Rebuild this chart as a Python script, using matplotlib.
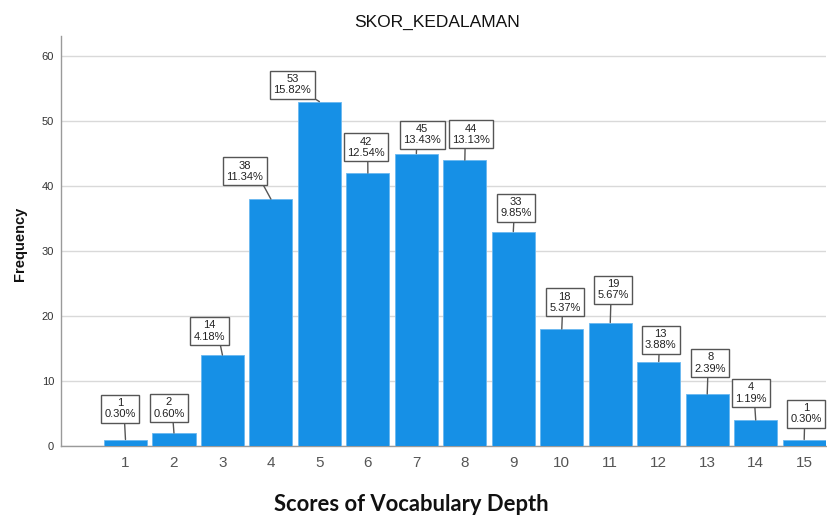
import matplotlib
matplotlib.use("Agg")
import matplotlib.pyplot as plt
import numpy as np

# ---- data ----
scores = [1, 2, 3, 4, 5, 6, 7, 8, 9, 10, 11, 12, 13, 14, 15]
frequency = [1, 2, 14, 38, 53, 42, 45, 44, 33, 18, 19, 13, 8, 4, 1]
title = "SKOR_KEDALAMAN"
x_label = "Scores of Vocabulary Depth"
y_label = "Frequency"
y_ticks = [0, 10, 20, 30, 40, 50, 60]

# ---- label layout (pixel offsets of callout boxes) ----
label_dx_px = [-5, -5, -13, -26, -27, -2, 6, 6, 3, 3, 3, 2, 3, -5, 2]
label_gap_px = [17, 11, 10, 14, 3, 12, 5, 12, 10, 13, 19, 8, 17, 13, 12]

plt.rcParams['font.family'] = ['Liberation Sans', 'DejaVu Sans']

W, H, DPI = 828, 517, 100
fig = plt.figure(figsize=(W / DPI, H / DPI), dpi=DPI)
ax = fig.add_axes([61 / W, (H - 446) / H, (826 - 61) / W, (446 - 36) / H])

total = sum(frequency)
bar_color = "#1690e6"
ax.bar(scores, frequency, width=0.89, color=bar_color, edgecolor="#6ab8f0",
       linewidth=0.6, zorder=3)

ax.set_xlim(-0.33, 15.45)
ax.set_ylim(0, 63.1)
ax.set_yticks(y_ticks)
ax.set_xticks(scores)
ax.set_xticklabels([str(s) for s in scores])
ax.tick_params(axis='x', length=0, pad=7, labelsize=11, labelcolor="#555555")
ax.tick_params(axis='y', length=0, pad=5, labelsize=8, labelcolor="#333333")
ax.grid(axis='y', color="#d9d9d9", linewidth=1.0, zorder=0)
ax.set_axisbelow(True)
for s in ['top', 'right']:
    ax.spines[s].set_visible(False)
for s in ['left', 'bottom']:
    ax.spines[s].set_color("#9a9a9a")
    ax.spines[s].set_linewidth(1.0)

px2pt = 72.0 / DPI
pad_pt = 0.3 * 8
box_w_px = 40.0
for x, v, dx, gap in zip(scores, frequency, label_dx_px, label_gap_px):
    pct = 100.0 * v / total
    rel_x = min(max(0.5 - dx / box_w_px, 0.05), 0.95)
    ax.annotate(f"{v}\n{pct:.2f}%", xy=(x, v),
                xytext=(dx * px2pt, gap * px2pt + pad_pt), textcoords='offset points',
                ha='center', va='bottom', multialignment='center',
                fontsize=8, color="#222222", linespacing=1.15, zorder=5,
                bbox=dict(boxstyle='square,pad=0.3', fc='white', ec='#555555', lw=1.0),
                arrowprops=dict(arrowstyle='-', color='#555555', lw=1.0,
                                shrinkA=0, shrinkB=0, relpos=(rel_x, 0.0)))

fig.text(437 / W, (H - 22) / H, title, ha='center', va='center',
         fontsize=12.5, color="#111111")
fig.text(20 / W, (H - 244) / H, y_label, ha='center', va='center', rotation=90,
         fontsize=10.5, fontweight='bold', color="#111111")
fig.text(411 / W, (H - 511) / H, x_label, ha='center', va='baseline',
         fontsize=15.8, fontweight='bold', color="#111111",
         family=['Lato', 'DejaVu Sans'])

fig.savefig("out.png", dpi=DPI)
